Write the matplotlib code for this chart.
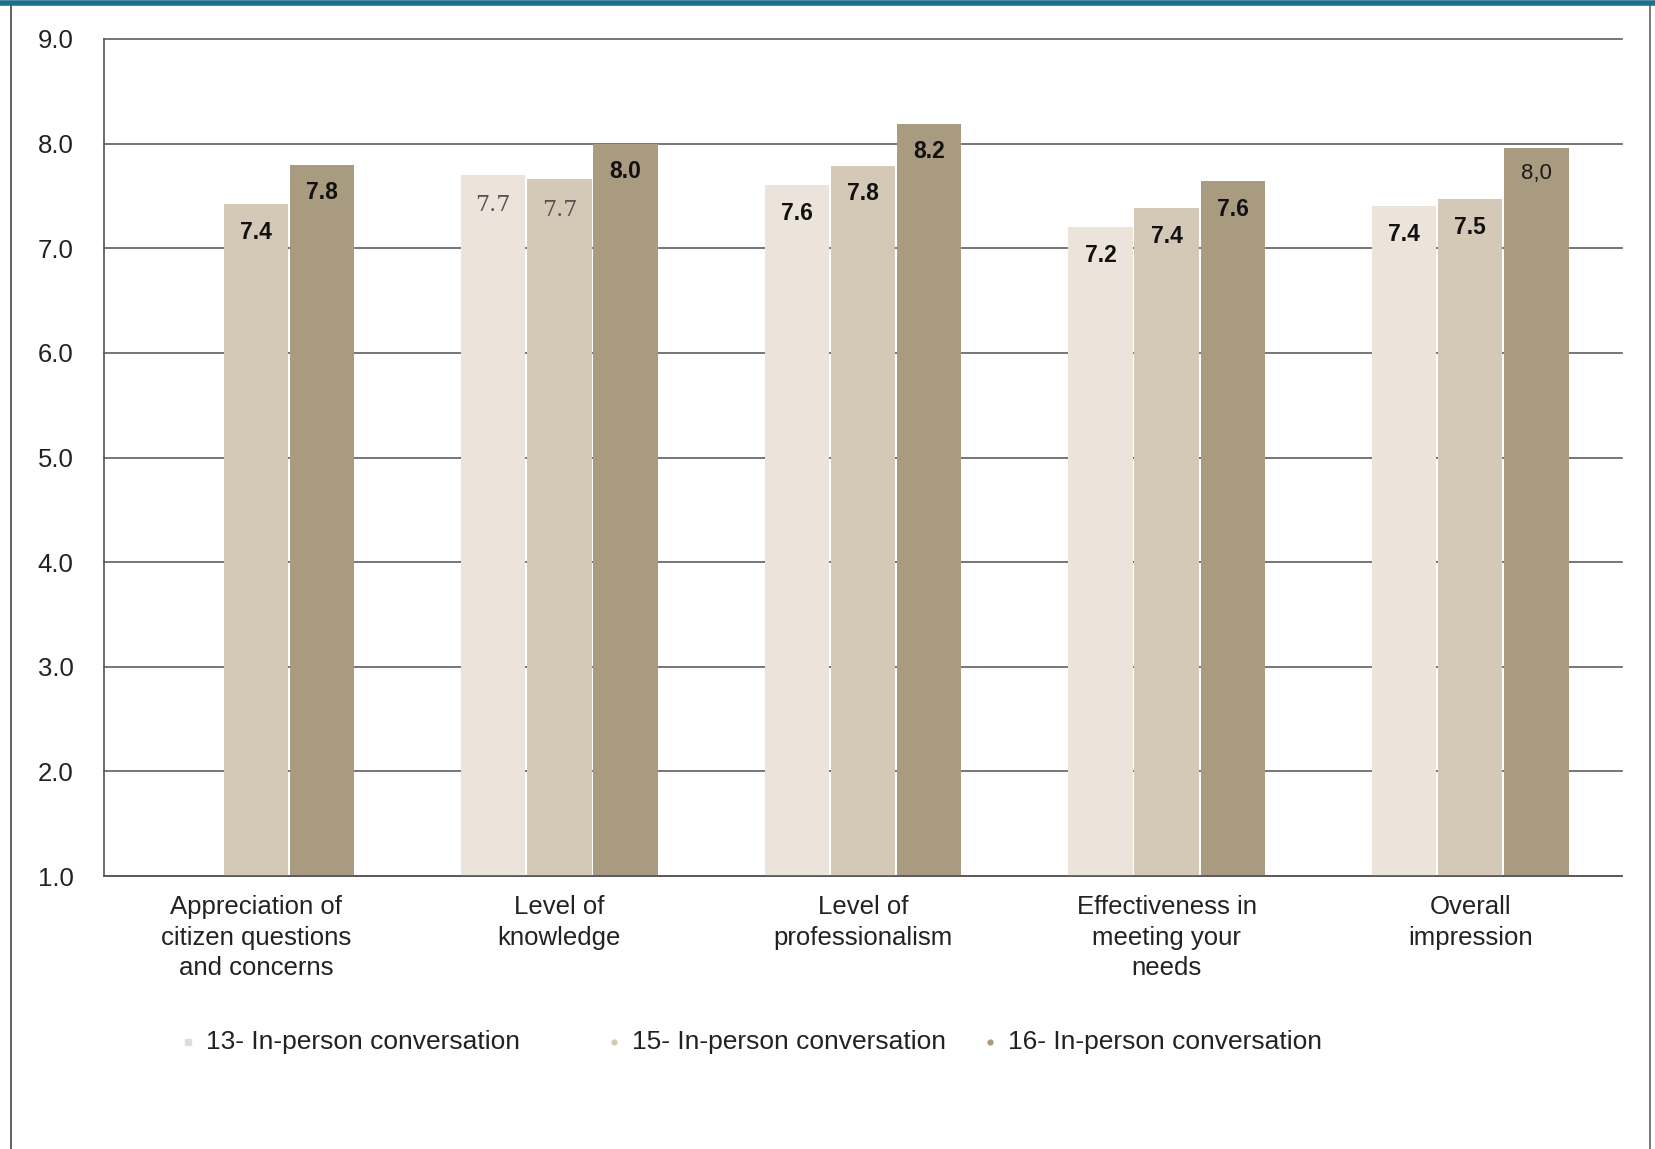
import numpy as np
import matplotlib.pyplot as plt
from matplotlib.lines import Line2D

plt.rcParams['font.family'] = ['Liberation Sans', 'DejaVu Sans']

categories = ["Appreciation of\ncitizen questions\nand concerns", "Level of\nknowledge",
              "Level of\nprofessionalism", "Effectiveness in\nmeeting your\nneeds",
              "Overall\nimpression"]
series_names = ["13- In-person conversation", "15- In-person conversation",
                "16- In-person conversation"]
s13 = [np.nan, 7.70, 7.60, 7.20, 7.40]
s15 = [7.42, 7.66, 7.79, 7.38, 7.47]
s16 = [7.80, 8.00, 8.19, 7.64, 7.96]
lab13 = ["", "7.7", "7.6", "7.2", "7.4"]
lab15 = ["7.4", "7.7", "7.8", "7.4", "7.5"]
lab16 = ["7.8", "8.0", "8.2", "7.6", "8,0"]
yticks = [1.0, 2.0, 3.0, 4.0, 5.0, 6.0, 7.0, 8.0, 9.0]

colors = ['#ece3db', '#d4c8b7', '#a99b7f']

W, H = 1655, 1149
fig = plt.figure(figsize=(W / 100, H / 100), dpi=100)
ax = fig.add_axes([104 / W, 1 - 876 / H, (1622 - 104) / W, (876 - 39) / H])

x = np.arange(len(categories))
bw = 0.218
for k, (vals, labs) in enumerate([(s13, lab13), (s15, lab15), (s16, lab16)]):
    xs = x + (k - 1) * bw
    ax.bar(xs, np.array(vals) - 1.0, bottom=1.0, width=bw - 0.006, color=colors[k], zorder=2)
    for xi, v, t in zip(xs, vals, labs):
        if not t:
            continue
        if t == "7.7":
            ax.text(xi, v - 0.29, t, ha='center', va='center', fontsize=16,
                    color='#555555', family='DejaVu Serif', zorder=3)
        elif t == "8,0":
            ax.text(xi, v - 0.25, t, ha='center', va='center', fontsize=16,
                    color='#1a1a1a', zorder=3)
        else:
            ax.text(xi, v - 0.27, t, ha='center', va='center', fontsize=16.5,
                    fontweight='bold', color='#111111', zorder=3)

ax.set_xlim(-0.5, len(categories) - 0.5)
ax.set_ylim(1.0, 9.0)
ax.set_yticks(yticks)
ax.set_yticklabels([f"{v:.1f}" for v in yticks], fontsize=18.5, color='#222222')
ax.set_xticks(x)
ax.set_xticklabels(categories, fontsize=18.5, color='#222222', linespacing=1.32)
ax.tick_params(axis='both', length=0)
ax.tick_params(axis='y', pad=22)
ax.tick_params(axis='x', pad=14)
ax.yaxis.grid(True, color='#5f5f5f', linewidth=1.2, zorder=0)
for gl in ax.get_ygridlines():
    gl.set_clip_on(False)
ax.set_axisbelow(True)
for s in ['top', 'right']:
    ax.spines[s].set_visible(False)
ax.spines['left'].set_color('#555555')
ax.spines['bottom'].set_color('#555555')
ax.spines['left'].set_linewidth(1.2)
ax.spines['bottom'].set_linewidth(1.2)

# legend, drawn by hand
leg_y = 1 - 1042 / H
leg_x = [188, 614, 990]
markers = ['s', 'o', 'o']
msizes = [5, 3.5, 3.5]
mcolors = ['#e2ddd8', '#d4c8b7', '#a99b7f']
for lx, name, m, ms, mc in zip(leg_x, series_names, markers, msizes, mcolors):
    fig.add_artist(Line2D([lx / W], [leg_y], marker=m, markersize=ms, color=mc,
                          linestyle='none', transform=fig.transFigure))
    fig.text((lx + 18) / W, leg_y, name, fontsize=19, color='#222222', va='center')

# frame around the picture
fig.add_artist(Line2D([11 / W, 11 / W], [0, 1 - 5 / H], color='#444444', lw=1.2,
                      transform=fig.transFigure))
fig.add_artist(Line2D([1650 / W, 1650 / W], [0, 1 - 5 / H], color='#666666', lw=1.2,
                      transform=fig.transFigure))
fig.add_artist(Line2D([0, 1], [1 - 2.5 / H, 1 - 2.5 / H], color='#1d6f8f', lw=4,
                      transform=fig.transFigure))

fig.savefig("out.png", dpi=100)
